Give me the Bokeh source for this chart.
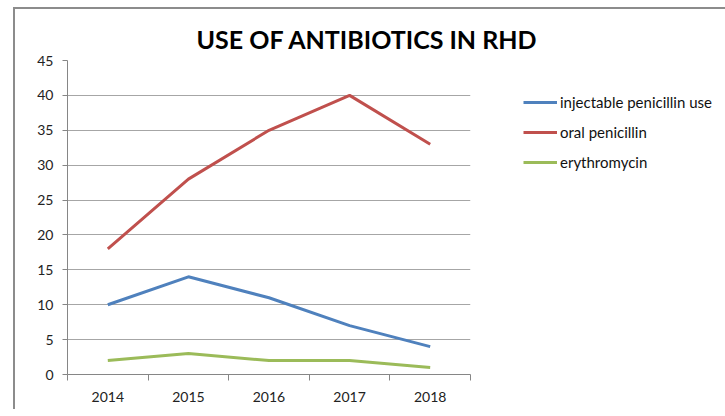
from bokeh.plotting import figure
from bokeh.models import FixedTicker, Legend, LegendItem, Range1d
from bokeh.embed import file_html
from bokeh.resources import INLINE

years = [2014, 2015, 2016, 2017, 2018]
injectable = [10, 14, 11, 7, 4]
oral = [18, 28, 35, 40, 33]
erythro = [2, 3, 2, 2, 1]
y_ticks = [0, 5, 10, 15, 20, 25, 30, 35, 40, 45]
series_names = ["injectable penicillin use", "oral penicillin", "erythromycin"]
colors = ["#4F81BD", "#C0504D", "#9BBB59"]

FONT = "Lato"

p = figure(width=700, height=400, output_backend="svg", toolbar_location=None,
           x_range=Range1d(years[0] - 0.5, years[-1] + 0.5), y_range=Range1d(0, 45),
           frame_width=403, frame_height=314,
           min_border_left=52, min_border_top=51, min_border_right=245, min_border_bottom=35,
           title="USE OF ANTIBIOTICS IN RHD")
p.margin = (7, 0, 0, 13)
p.styles = {"border-left": "2px solid #8C8C8C", "border-top": "2px solid #8C8C8C",
            "border-right": "2px solid #8C8C8C"}
p.outline_line_color = None
p.background_fill_color = "white"
p.border_fill_color = "white"

p.title.align = "left"
p.title.offset = 129
p.title.standoff = 14
p.title.text_font = FONT
p.title.text_font_style = "bold"
p.title.text_font_size = "25px"
p.title.text_color = "black"

renderers = []
for vals, c in zip([injectable, oral, erythro], colors):
    r = p.line(years, vals, line_color=c, line_width=3)
    renderers.append(r)

xa = p.xaxis[0]
xa.ticker = FixedTicker(ticks=years, minor_ticks=[y - 0.5 for y in years] + [years[-1] + 0.5])
xa.major_tick_out = 0
xa.major_tick_in = 0
xa.minor_tick_out = 6
xa.minor_tick_in = 0
xa.minor_tick_line_color = "#868686"
xa.axis_line_color = "#868686"
xa.major_label_standoff = 11
xa.major_label_text_font = FONT
xa.major_label_text_font_size = "14px"
xa.major_label_text_color = "#222222"

ya = p.yaxis[0]
ya.ticker = FixedTicker(ticks=y_ticks)
ya.major_tick_out = 5
ya.major_tick_in = 0
ya.minor_tick_line_color = None
ya.axis_line_color = "#868686"
ya.major_tick_line_color = "#868686"
ya.major_label_standoff = 9
ya.major_label_text_font = FONT
ya.major_label_text_font_size = "14px"
ya.major_label_text_color = "#222222"

p.xgrid.grid_line_color = None
p.ygrid.grid_line_color = "#A6A6A6"
p.ygrid.ticker = FixedTicker(ticks=y_ticks)

legend = Legend(items=[LegendItem(label=n, renderers=[r]) for n, r in zip(series_names, renderers)],
                location=(53, 202), padding=0, margin=0, spacing=10,
                glyph_width=34, glyph_height=20, label_height=20, label_standoff=3,
                border_line_color=None, background_fill_alpha=0,
                label_text_font=FONT, label_text_font_size="15px",
                label_text_color="#111111")
p.add_layout(legend, "right")

open("out.html", "w").write(file_html(p, INLINE))
